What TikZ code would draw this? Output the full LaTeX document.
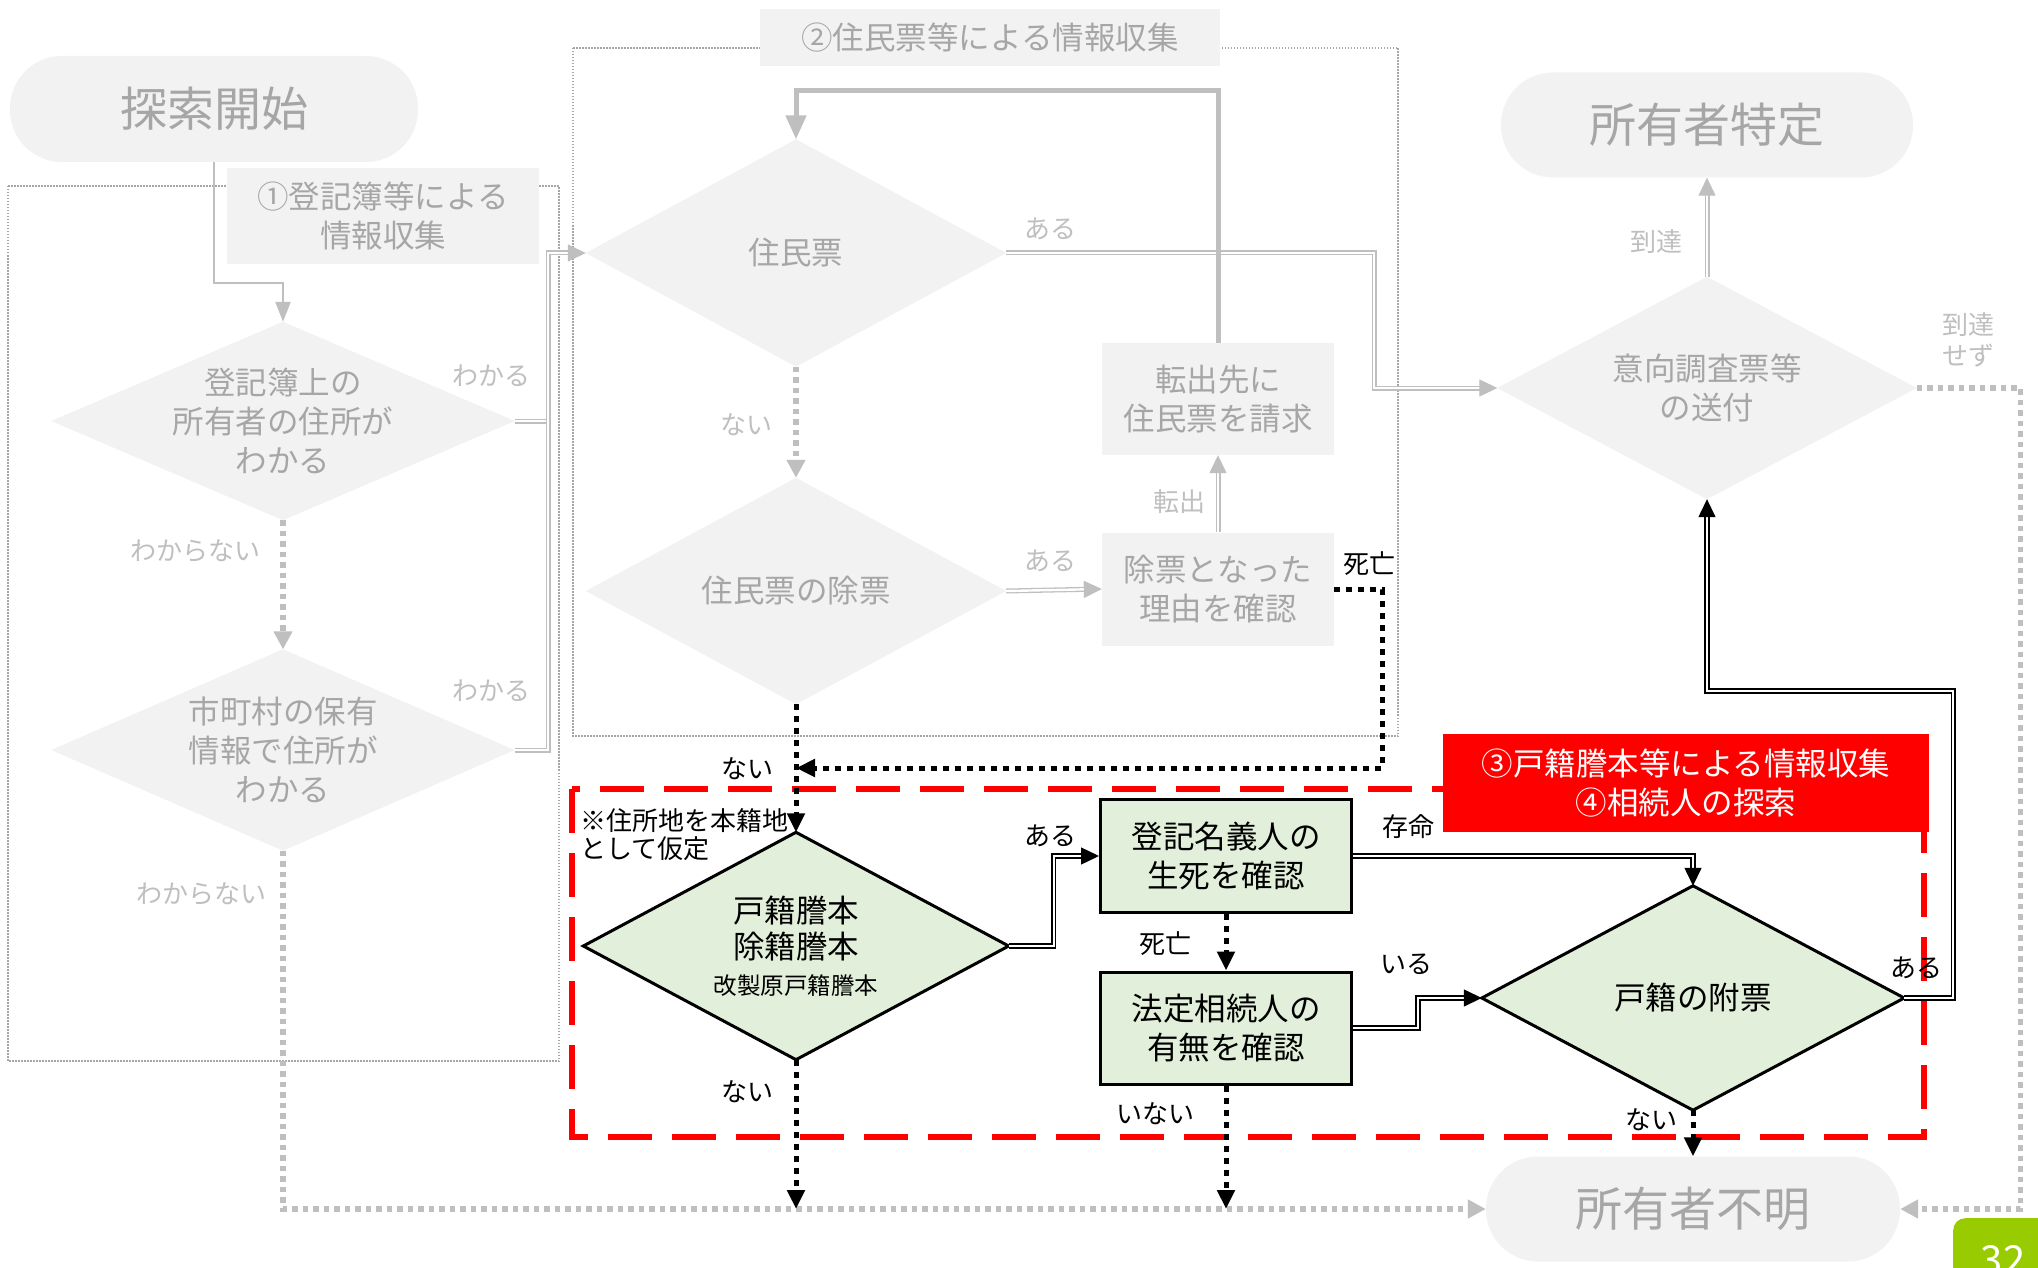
\documentclass[tikz,border=0pt]{standalone}
\usepackage{fontspec}
\setmainfont{Noto Sans CJK JP}
\usetikzlibrary{arrows.meta}
\definecolor{gfill}{HTML}{F2F2F2}
\definecolor{gtext}{HTML}{A6A6A6}
\definecolor{glab}{HTML}{BFBFBF}
\definecolor{gline}{HTML}{BFBFBF}
\definecolor{gbord}{HTML}{A6A6A6}
\definecolor{kfill}{HTML}{E2EFDA}
\definecolor{pgreen}{HTML}{99CC00}
\definecolor{kred}{HTML}{FF0000}
\pgfdeclarelayer{back}
\pgfdeclarelayer{shapes}
\pgfsetlayers{back,shapes,main}
\newcommand\fmain{\fontsize{31.5}{39}\selectfont}
\newcommand\fbig{\fontsize{47}{56}\selectfont}
\newcommand\flab{\fontsize{26}{31}\selectfont}
\newcommand\fsmall{\fontsize{23.5}{28}\selectfont}
\newcommand\fnote{\fontsize{26}{28}\selectfont}
\newcommand\diafill[2]{\begin{pgfonlayer}{shapes}\path[#2] (#1.north)--(#1.east)--(#1.south)--(#1.west)--cycle;\end{pgfonlayer}}
\tikzset{
  gbox/.style={rectangle, fill=gfill, text=gtext, align=center, inner sep=0pt, font=\fmain},
  gstad/.style={rectangle, rounded corners=52pt, fill=gfill, text=gtext, inner sep=0pt, font=\fbig},
  dtxt/.style={rectangle, inner sep=0pt, align=center, font=\fmain},
  kbox/.style={rectangle, draw=black, line width=3pt, fill=kfill, align=center, inner sep=0pt, font=\fmain},
  glabel/.style={text=glab, font=\flab, inner sep=0pt, align=center},
  klabel/.style={text=black, font=\flab, inner sep=0pt},
  gdiafill/.style={fill=gfill},
  kdiafill/.style={fill=kfill, draw=black, line width=3pt, line join=miter},
  dotbox/.style={draw=gbord, line width=1.5pt, dash pattern=on 1.5pt off 1.5pt},
  garr/.style={draw=gline, line width=2.5pt, -{Triangle[length=20pt,width=15pt]}},
  gthick/.style={draw=gline, line width=5pt, -{Triangle[length=24pt,width=20pt]}},
  gdbl/.style={draw=gline, line width=1.3pt, double=white, double distance=2.4pt, -{Triangle[length=18pt,width=17pt]}},
  kdbl/.style={draw=black, line width=1.4pt, double=white, double distance=2.4pt, -{Triangle[length=18pt,width=17pt]}},
  gdot/.style={draw=gline, line width=5.5pt, dash pattern=on 5.5pt off 5pt, -{Triangle[length=18pt,width=18pt]}},
  kdot/.style={draw=black, line width=5pt, dash pattern=on 6pt off 6pt, -{Triangle[length=19pt,width=17pt]}},
}
\begin{document}
\begin{tikzpicture}[x=1pt,y=-1pt]
\useasboundingbox (0,0) rectangle (2038,1268);
\begin{pgfonlayer}{back}
\fill[white] (0,0) rectangle (2038,1268);
\draw[dotbox] (8,186) rectangle (559,1061);
\draw[dotbox] (573,48) rectangle (1398,736);
\draw[kred, line width=5.5pt, dash pattern=on 44pt off 20pt] (572,789) rectangle (1924,1137);
\end{pgfonlayer}

% gray part
\node[gstad, minimum width=408pt, minimum height=106pt] (start) at (214,109) {探索開始};
\node[gbox, minimum width=312pt, minimum height=96pt] (lab1) at (383,216) {①登記簿等による\\情報収集};
\node[dtxt, text=gtext, minimum width=463pt, minimum height=198pt] (d1) at (283,421) {登記簿上の\\所有者の住所が\\わかる};
\node[dtxt, text=gtext, minimum width=463pt, minimum height=201pt] (d2) at (283,750) {市町村の保有\\情報で住所が\\わかる};
\diafill{d1}{gdiafill}
\diafill{d2}{gdiafill}
\node[gbox, minimum width=460pt, minimum height=57pt] (lab2) at (990,38) {②住民票等による情報収集};
\node[dtxt, text=gtext, minimum width=420pt, minimum height=227pt] (jm) at (796,253) {住民票};
\node[dtxt, text=gtext, minimum width=420pt, minimum height=226pt] (jj) at (796,591) {住民票の除票};
\diafill{jm}{gdiafill}
\diafill{jj}{gdiafill}
\node[gbox, minimum width=232pt, minimum height=113pt] (bj) at (1218,589) {除票となった\\理由を確認};
\node[gbox, minimum width=232pt, minimum height=112pt] (bt) at (1218,399) {転出先に\\住民票を請求};
\node[gstad, minimum width=412pt, minimum height=105pt] (st) at (1707,125) {所有者特定};
\node[dtxt, text=gtext, minimum width=419pt, minimum height=222pt] (di) at (1707,388) {意向調査票等\\の送付};
\diafill{di}{gdiafill}
\node[gstad, minimum width=414pt, minimum height=105pt] (sf) at (1693,1209) {所有者不明};

% colored part
\node[rectangle, fill=kred, text=white, align=center, inner sep=0pt, font=\fmain, minimum width=486pt, minimum height=98pt] (lab3) at (1686,783) {③戸籍謄本等による情報収集\\④相続人の探索};
\node[anchor=north west, font=\fnote, align=left, inner sep=0pt] (note) at (580,808) {※住所地を本籍地\\として仮定};
\node[dtxt, text=black, minimum width=425pt, minimum height=227pt, font=\fontsize{31.5}{36}\selectfont] (dk) at (796,946) {戸籍謄本\\除籍謄本\\{\fsmall 改製原戸籍謄本}};
\diafill{dk}{kdiafill}
\node[kbox, minimum width=251pt, minimum height=113pt] (bs) at (1226,856) {登記名義人の\\生死を確認};
\node[kbox, minimum width=251pt, minimum height=112pt] (bh) at (1226,1028) {法定相続人の\\有無を確認};
\node[dtxt, text=black, minimum width=422pt, minimum height=224pt] (df) at (1693,998) {戸籍の附票};
\diafill{df}{kdiafill}

% page number
\node[fill=pgreen, rounded corners=12pt, minimum width=110pt, minimum height=80pt, anchor=north west, inner sep=0pt] (pbox) at (1953,1218) {};
\node[text=white, font=\fontsize{40}{40}\selectfont, anchor=base, inner sep=0pt] (pnum) at (2003,1274) {32};

% labels
\node[glabel] (l1) at (491,376) {わかる};
\node[glabel] (l2) at (195,551) {わからない};
\node[glabel] (l3) at (491,691) {わかる};
\node[glabel] (l4) at (201,894) {わからない};
\node[glabel] (l5) at (1050,229) {ある};
\node[glabel] (l6) at (746,425) {ない};
\node[glabel] (l7) at (1050,561) {ある};
\node[glabel] (l8) at (1179,502) {転出};
\node[klabel] (l9) at (1369,564) {死亡};
\node[glabel] (l10) at (1656,242) {到達};
\node[glabel] (l11) at (1968,340) {到達\\せず};
\node[klabel] (l12) at (747,769) {ない};
\node[klabel] (l13) at (747,1092) {ない};
\node[klabel] (l14) at (1050,836) {ある};
\node[klabel] (l15) at (1408,827) {存命};
\node[klabel] (l16) at (1165,944) {死亡};
\node[klabel] (l17) at (1406,964) {いる};
\node[klabel] (l18) at (1155,1114) {いない};
\node[klabel] (l19) at (1916,968) {ある};
\node[klabel] (l20) at (1651,1120) {ない};

% coordinates
\coordinate (jx) at (548,0);
\coordinate (jx2) at (1374,0);
\coordinate (kjoin) at (796,768);

% gray connectors
\draw[garr] (start.south) -- ++(0,121) -| (d1.north);
\draw[gdot] (d1.south) -- (d2.north);
\draw[gdbl, -] (d1.east) -- (d1.east -| jx);
\draw[gdbl] (d2.east) -- (d2.east -| jx) |- (jm.west);
\draw[gdbl] (jm.east) -- (jm.east -| jx2) |- (di.west);
\draw[gdot] (jm.south) -- (jj.north);
\draw[gdbl] (jj.east) -- (bj.west);
\draw[gdbl] (bj.north) -- (bt.south);
\draw[gthick] (bt.north) -- ++(0,-252) -| (jm.north);
\draw[gdbl] (di.north) -- (st.south);
\draw[gdot] (di.east) -- ++(104,0) |- (sf.east);
\draw[gdot] (d2.south) |- (sf.west);

% black connectors
\draw[kdot] (bj.east) -- ++(48,0) |- (kjoin);
\draw[kdot] (jj.south) -- (dk.north);
\draw[kdbl] (dk.east) -- ++(45,0) |- (bs.west);
\draw[kdot] (dk.south) -- (dk.south |- sf.west);
\draw[kdbl] (bs.east) -| (df.north);
\draw[kdot] (bs.south) -- (bh.north);
\draw[kdbl] (bh.east) -- ++(65,0) |- (df.west);
\draw[kdot] (bh.south) -- (bh.south |- sf.west);
\draw[kdbl] (df.east) -- ++(49,0) -- ++(0,-307) -| (di.south);
\draw[kdot] (df.south) -- (sf.north);
\end{tikzpicture}
\end{document}
